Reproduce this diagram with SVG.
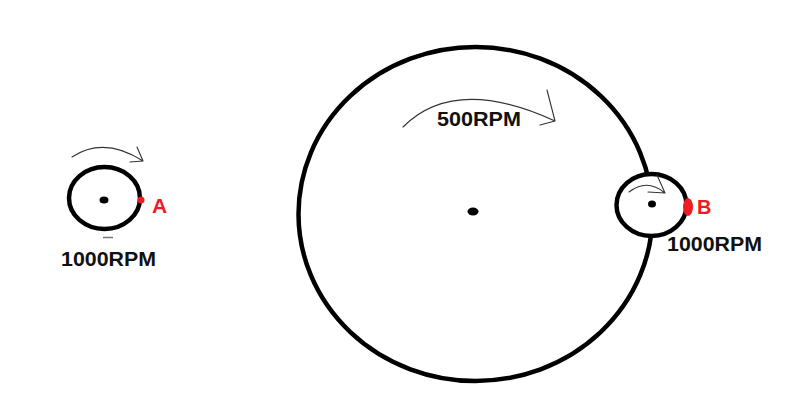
<svg xmlns="http://www.w3.org/2000/svg" width="800" height="420" viewBox="0 0 800 420">
<style>
.wheel{fill:none;stroke:#000;stroke-width:4.5}
.wf{fill:#fff;stroke:#000;stroke-width:4.5}
.hub{fill:#000}
.arr{fill:none;stroke:#333;stroke-width:1.1;stroke-linecap:round}
.lbl{font-family:"Liberation Sans",Arial,sans-serif;font-weight:bold;fill:#111}
.red{font-family:"Liberation Sans",Arial,sans-serif;font-weight:bold;fill:#ed1c24}
</style>
<rect width="800" height="420" fill="#fff"/>
<g id="small-wheel-left">
<ellipse class="wheel" cx="104.5" cy="198" rx="35.5" ry="31"/>
<ellipse class="hub" cx="104" cy="200" rx="4.5" ry="3.5"/>
<circle cx="141" cy="200" r="3.5" fill="#ed1c24"/>
<line x1="103" y1="237.5" x2="113" y2="237.5" stroke="#777" stroke-width="1.5"/>
<text class="red" x="152" y="212.5" font-size="21">A</text>
<text class="lbl" x="61" y="266" font-size="20.5" textLength="95" lengthAdjust="spacingAndGlyphs">1000RPM</text>
</g>
<g id="big-wheel">
<ellipse class="wheel" cx="475.5" cy="214" rx="177" ry="167"/>
<ellipse class="hub" cx="473" cy="211.5" rx="5.5" ry="4"/>
<text class="lbl" x="437" y="126" font-size="20.5" textLength="84" lengthAdjust="spacingAndGlyphs">500RPM</text>
</g>
<g id="small-wheel-right">
<ellipse class="wf" cx="651.5" cy="205" rx="35" ry="31"/>
<ellipse class="hub" cx="652" cy="204" rx="4" ry="3.5"/>
<ellipse cx="688" cy="207" rx="5" ry="9" fill="#ed1c24"/>
<text class="red" x="697" y="214" font-size="20">B</text>
<text class="lbl" x="667" y="251" font-size="20.5" textLength="95" lengthAdjust="spacingAndGlyphs">1000RPM</text>
</g>
<g id="connectors">
<path class="arr" d="M72,157 Q104,136 143,161 M143,161 L137,147 M143,161 L130,162"/>
<path class="arr" d="M403,127 Q455,75 555,121 M555,121 L547,90 M555,121 L540,125"/>
<path class="arr" d="M629,192 Q647,178 665,193 M665,193 L657,175 M665,193 L648,192"/>
</g>
</svg>
